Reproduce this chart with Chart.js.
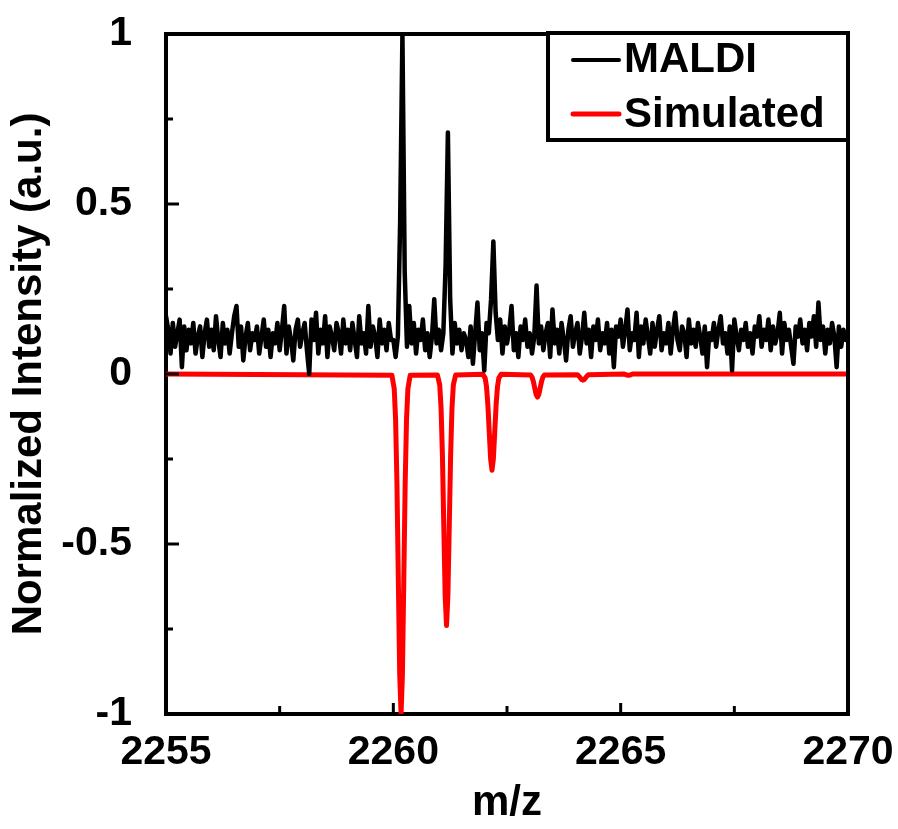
<!DOCTYPE html>
<html>
<head>
<meta charset="utf-8">
<script src="https://cdn.jsdelivr.net/npm/chart.js@4.4.1/dist/chart.umd.min.js"></script>
<style>
  html, body { margin: 0; padding: 0; background: #ffffff; }
  #wrap { width: 898px; height: 829px; }
</style>
</head>
<body>
<div id="wrap"><canvas id="c" width="898" height="829"></canvas></div>
<script>
// ---------------- DATA ----------------
const SERIES_NAMES = ['MALDI', 'Simulated'];
const SERIES_COLORS = ['#000000', '#ff0000'];

// MALDI spectrum: m/z grid 2255 .. 2270, step 0.05
const MZ_START = 2255;
const MZ_STEP = 0.05;
const MALDI_INTENSITY = [
  // 2255
  0.17, 0.13, 0.06, 0.15, 0.08, 0.12, 0.16, 0.02, 0.14, 0.07, 0.13, 0.09, 0.15, 0.06, 0.11, 0.14, 0.05, 0.12, 0.16, 0.08,
  // 2256
  0.13, 0.07, 0.17, 0.10, 0.05, 0.15, 0.09, 0.13, 0.06, 0.12, 0.17, 0.20, 0.08, 0.14, 0.04, 0.11, 0.15, 0.07, 0.12, 0.10,
  // 2257
  0.14, 0.06, 0.11, 0.16, 0.08, 0.13, 0.05, 0.12, 0.09, 0.15, 0.07, 0.13, 0.20, 0.06, 0.14, 0.10, 0.04, 0.13, 0.16, 0.08,
  // 2258
  0.12, 0.15, 0.07, 0.00, 0.16, 0.10, 0.18, 0.06, 0.13, 0.09, 0.17, 0.05, 0.14, 0.11, 0.07, 0.15, 0.12, 0.06, 0.16, 0.09,
  // 2259
  0.13, 0.07, 0.15, 0.10, 0.05, 0.17, 0.09, 0.12, 0.06, 0.20, 0.08, 0.14, 0.11, 0.05, 0.16, 0.09, 0.13, 0.07, 0.15, 0.10,
  // 2260
  0.10, 0.05, 0.11, 0.45, 1.00, 0.30, 0.08, 0.20, 0.09, 0.15, 0.06, 0.13, 0.10, 0.16, 0.07, 0.12, 0.05, 0.11, 0.22, 0.09,
  // 2261
  0.13, 0.07, 0.12, 0.32, 0.71, 0.22, 0.06, 0.15, 0.09, 0.13, 0.07, 0.12, 0.10, 0.05, 0.14, 0.03, 0.12, 0.21, 0.07, 0.12,
  // 2262
  0.01, 0.15, 0.12, 0.22, 0.39, 0.18, 0.10, 0.16, 0.06, 0.14, 0.09, 0.13, 0.20, 0.07, 0.12, 0.05, 0.14, 0.10, 0.16, 0.08,
  // 2263
  0.12, 0.06, 0.11, 0.26, 0.09, 0.14, 0.07, 0.12, 0.15, 0.05, 0.19, 0.09, 0.13, 0.06, 0.15, 0.10, 0.04, 0.13, 0.17, 0.08,
  // 2264
  0.12, 0.15, 0.06, 0.11, 0.18, 0.09, 0.13, 0.05, 0.14, 0.10, 0.16, 0.07, 0.12, 0.09, 0.15, 0.06, 0.13, 0.02, 0.14, 0.11,
  // 2265
  0.16, 0.08, 0.13, 0.19, 0.07, 0.12, 0.10, 0.18, 0.05, 0.14, 0.09, 0.16, 0.11, 0.06, 0.15, 0.08, 0.13, 0.17, 0.07, 0.12,
  // 2266
  0.09, 0.15, 0.06, 0.13, 0.18, 0.10, 0.07, 0.14, 0.12, 0.05, 0.16, 0.09, 0.13, 0.08, 0.15, 0.11, 0.06, 0.14, 0.02, 0.12,
  // 2267
  0.10, 0.15, 0.08, 0.13, 0.17, 0.09, 0.12, 0.06, 0.14, 0.01, 0.16, 0.11, 0.07, 0.13, 0.10, 0.15, 0.08, 0.12, 0.06, 0.14,
  // 2268
  0.11, 0.17, 0.08, 0.13, 0.10, 0.16, 0.07, 0.14, 0.09, 0.12, 0.18, 0.06, 0.15, 0.10, 0.13, 0.08, 0.03, 0.14, 0.11, 0.16,
  // 2269
  0.09, 0.13, 0.07, 0.15, 0.11, 0.17, 0.08, 0.21, 0.10, 0.14, 0.06, 0.13, 0.09, 0.15, 0.11, 0.02, 0.14, 0.08, 0.13, 0.10,
  // 2270
  0.12
];

// Simulated isotope pattern (plotted inverted)
const SIM_MZ = [
  2255.00,
  2259.97, 2260.02, 2260.05, 2260.08, 2260.11, 2260.14, 2260.17, 2260.20, 2260.23, 2260.26, 2260.29, 2260.32, 2260.37,
  2260.97, 2261.02, 2261.05, 2261.08, 2261.11, 2261.14, 2261.17, 2261.20, 2261.23, 2261.26, 2261.29, 2261.32, 2261.37,
  2261.97, 2262.02, 2262.05, 2262.08, 2262.11, 2262.14, 2262.17, 2262.20, 2262.23, 2262.26, 2262.29, 2262.32, 2262.37,
  2263.02, 2263.05, 2263.08, 2263.11, 2263.14, 2263.17, 2263.20, 2263.23, 2263.26, 2263.29, 2263.32,
  2264.05, 2264.08, 2264.11, 2264.14, 2264.17, 2264.20, 2264.23, 2264.26, 2264.29,
  2265.08, 2265.13, 2265.17, 2265.21, 2265.26,
  2270.00
];
const SIM_INTENSITY = [
  0,
  -0.004, -0.044, -0.135, -0.325, -0.607, -0.883, -1.000, -0.883, -0.607, -0.325, -0.135, -0.044, -0.004,
  -0.003, -0.032, -0.100, -0.240, -0.449, -0.653, -0.740, -0.653, -0.449, -0.240, -0.100, -0.032, -0.003,
  -0.001, -0.012, -0.038, -0.092, -0.172, -0.250, -0.283, -0.250, -0.172, -0.092, -0.038, -0.012, -0.001,
  -0.003, -0.009, -0.022, -0.041, -0.060, -0.068, -0.060, -0.041, -0.022, -0.009, -0.003,
  -0.002, -0.006, -0.011, -0.016, -0.018, -0.016, -0.011, -0.006, -0.002,
  0, -0.003, -0.004, -0.003, 0,
  0
];

const X_TICKS = [2255, 2260, 2265, 2270];
const X_MINOR_TICKS = [2257.5, 2262.5, 2267.5];
const Y_TICKS = [-1, -0.5, 0, 0.5, 1];
const Y_MINOR_TICKS = [-0.75, -0.25, 0.25, 0.75];
const X_TITLE = 'm/z';
const Y_TITLE = 'Normalized Intensity (a.u.)';

// ---------------- CHART ----------------
const FONT = "'Liberation Sans', Arial, Helvetica, sans-serif";
Chart.defaults.font.family = FONT;
Chart.defaults.font.weight = 'bold';
Chart.defaults.color = '#000';

const maldiPoints = MALDI_INTENSITY.map((v, i) => ({ x: MZ_START + i * MZ_STEP, y: v }));
const simPoints = SIM_MZ.map((m, i) => ({ x: m, y: SIM_INTENSITY[i] }));

const framePlugin = {
  id: 'frame',
  afterDatasetsDraw(chart) {
    const { ctx, chartArea: a, scales: { x, y } } = chart;
    ctx.save();
    ctx.strokeStyle = '#000';
    ctx.lineCap = 'butt';
    // frame top + right
    ctx.lineWidth = 4;
    ctx.beginPath();
    ctx.moveTo(a.left - 2, a.top);
    ctx.lineTo(a.right, a.top);
    ctx.lineTo(a.right, a.bottom + 2);
    ctx.stroke();
    // inward ticks
    ctx.lineWidth = 3;
    const tick = (px, py, dx, dy) => { ctx.beginPath(); ctx.moveTo(px, py); ctx.lineTo(px + dx, py + dy); ctx.stroke(); };
    X_TICKS.forEach(v => tick(x.getPixelForValue(v), a.bottom, 0, -11));
    X_MINOR_TICKS.forEach(v => tick(x.getPixelForValue(v), a.bottom, 0, -8));
    Y_TICKS.forEach(v => tick(a.left, y.getPixelForValue(v), 13, 0));
    Y_MINOR_TICKS.forEach(v => tick(a.left, y.getPixelForValue(v), 7, 0));

    // legend box
    const bx = a.right - 300, by = a.top - 1, bw = 300, bh = 107;
    ctx.fillStyle = '#fff';
    ctx.fillRect(bx, by, bw, bh);
    ctx.lineWidth = 4;
    ctx.strokeRect(bx, by, bw, bh);
    ctx.font = 'bold 42px ' + FONT;
    ctx.textBaseline = 'alphabetic';
    ctx.textAlign = 'left';
    const rows = [by + 27, by + 81];
    const bases = [by + 39, by + 94];
    chart.data.datasets.forEach((ds, i) => {
      ctx.strokeStyle = ds.borderColor;
      ctx.lineWidth = i === 0 ? 4 : 5;
      ctx.lineCap = 'round';
      ctx.beginPath();
      ctx.moveTo(bx + 25, rows[i]);
      ctx.lineTo(bx + 71, rows[i]);
      ctx.stroke();
      ctx.fillStyle = '#000';
      ctx.fillText(ds.label, bx + 76, bases[i]);
    });
    ctx.restore();
  }
};

new Chart(document.getElementById('c'), {
  type: 'line',
  data: {
    datasets: [
      { label: SERIES_NAMES[0], data: maldiPoints, borderColor: SERIES_COLORS[0], borderWidth: 4.5,
        pointRadius: 0, tension: 0, borderJoinStyle: 'round', borderCapStyle: 'round' },
      { label: SERIES_NAMES[1], data: simPoints, borderColor: SERIES_COLORS[1], borderWidth: 5,
        pointRadius: 0, tension: 0, borderJoinStyle: 'round', borderCapStyle: 'round' }
    ]
  },
  options: {
    responsive: false,
    animation: false,
    events: [],
    parsing: false,
    layout: { padding: { top: 34, right: 50, left: 0, bottom: 0 } },
    plugins: { legend: { display: false }, tooltip: { enabled: false } },
    scales: {
      x: {
        type: 'linear', min: 2255, max: 2270,
        afterBuildTicks: s => { s.ticks = X_TICKS.map(v => ({ value: v })); },
        afterFit: s => { s.height = 115; s.paddingLeft = 0; s.paddingRight = 0; },
        grid: { display: false, drawTicks: false },
        border: { display: true, color: '#000', width: 4 },
        ticks: { font: { size: 41, weight: 'bold' }, color: '#000', padding: 14, maxRotation: 0,
                 callback: v => String(v) },
        title: { display: true, text: X_TITLE, font: { size: 42, weight: 'bold' }, color: '#000',
                 padding: { top: 0, bottom: 0 } }
      },
      y: {
        type: 'linear', min: -1, max: 1,
        afterBuildTicks: s => { s.ticks = Y_TICKS.map(v => ({ value: v })); },
        afterFit: s => { s.width = 166; s.paddingTop = 0; s.paddingBottom = 0; },
        grid: { display: false, drawTicks: false },
        border: { display: true, color: '#000', width: 4 },
        ticks: { font: { size: 41, weight: 'bold' }, color: '#000', padding: 34,
                 callback: v => String(v) },
        title: { display: true, text: Y_TITLE, font: { size: 42, weight: 'bold' }, color: '#000',
                 padding: { top: 4, bottom: 0 } }
      }
    }
  },
  plugins: [framePlugin]
});
</script>
</body>
</html>
